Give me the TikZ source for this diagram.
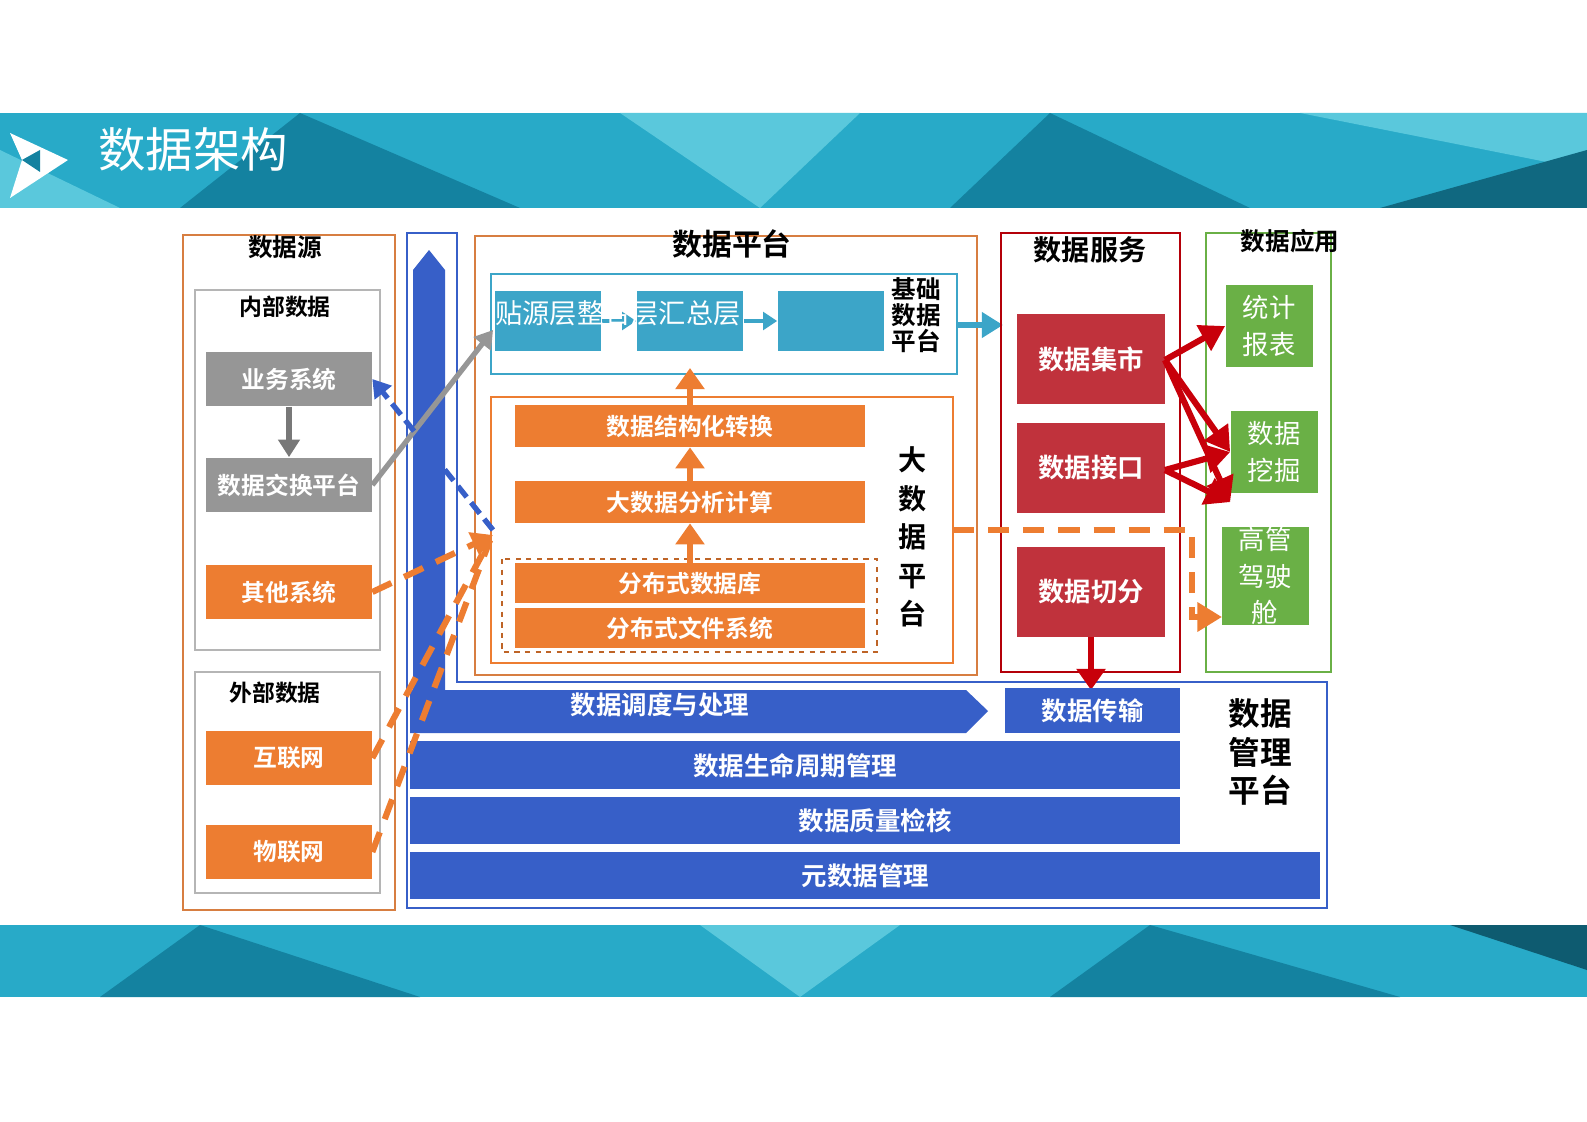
\documentclass[tikz,border=0pt]{standalone}
\usepackage{fontspec}
\setmainfont{Noto Sans CJK SC}
\newfontfamily\cjkb{Noto Sans CJK SC Bold}
\usetikzlibrary{arrows.meta,shapes.arrows}
\definecolor{teal1}{RGB}{40,170,200}
\definecolor{teal2}{RGB}{20,130,160}
\definecolor{teal3}{RGB}{90,200,220}
\definecolor{bgray}{RGB}{150,150,150}
\definecolor{borng}{RGB}{237,125,49}
\definecolor{bred}{RGB}{192,50,60}
\definecolor{bgreen}{RGB}{106,176,70}
\definecolor{bblue}{RGB}{55,95,200}
\definecolor{bteal}{RGB}{60,165,200}
\definecolor{arred}{RGB}{200,0,10}
\tikzset{
 box/.style={draw=none,fill=#1,text=white,font=\cjkb\fontsize{13.5}{16}\selectfont,align=center,inner sep=0pt},
 frame/.style={draw=#1,line width=1.5pt},
 ttl/.style={font=\cjkb\fontsize{14}{17}\selectfont,align=center,inner sep=0pt},
 obox/.style={box=borng,minimum width=7.02cm,minimum height=0.84cm},
 rbox/.style={box=bred,minimum width=2.96cm,minimum height=1.8cm,font=\cjkb\fontsize{15}{18}\selectfont},
 gbox/.style={box=bgreen,minimum width=1.74cm,minimum height=1.64cm,font=\fontsize{15}{21}\selectfont},
 sbox/.style={box=#1,minimum width=3.32cm,minimum height=1.1cm},
 mbar/.style={box=bblue,font=\cjkb\fontsize{14.5}{17}\selectfont,anchor=north west},
}
\begin{document}
\begin{tikzpicture}[x=0.02cm,y=-0.02cm]
\useasboundingbox (0,0) rectangle (1587,1122);
\fill[white] (0,0) rectangle (1587,1122);
% banners
\fill[teal1] (0,113) rectangle (1587,208);
\fill[teal2] (300,113)--(520,208)--(180,208)--cycle;
\fill[teal3] (620,113)--(860,113)--(760,208)--cycle;
\fill[teal2] (1050,113)--(1250,208)--(950,208)--cycle;
\fill[teal3] (1300,113)--(1587,113)--(1587,170)--cycle;
\fill[teal2!80!black] (1380,208)--(1587,150)--(1587,208)--cycle;
\fill[teal3] (0,150)--(120,208)--(0,208)--cycle;
\fill[white] (10,133)--(68,160)--(10,198)--(22,160)--cycle;
\fill[teal2] (22,160)--(40,150)--(40,172)--cycle;
\node[anchor=west,text=white,font=\fontsize{27}{32}\selectfont] (title) at (92,150) {数据架构};
\fill[teal1] (0,925) rectangle (1587,997);
\fill[teal2] (200,925)--(420,997)--(100,997)--cycle;
\fill[teal3] (700,925)--(900,925)--(800,997)--cycle;
\fill[teal2] (1150,925)--(1400,997)--(1050,997)--cycle;
\fill[teal2!70!black] (1450,925)--(1587,925)--(1587,970)--cycle;
% data source
\draw[frame=borng!80!gray] (183,235) rectangle (395,910);
\node[ttl] (tsrc) at (285,247) {数据源};
\draw[frame=bgray!70,line width=1pt] (195,290) rectangle (380,650);
\node[ttl,font=\cjkb\fontsize{13}{16}\selectfont] (tin) at (285,307) {内部数据};
\node[sbox=bgray] (yw) at (289,379) {业务系统};
\node[sbox=bgray] (jh) at (289,485) {数据交换平台};
\node[sbox=borng] (qt) at (289,592) {其他系统};
\draw[frame=bgray!70,line width=1pt] (195,672) rectangle (380,893);
\node[ttl,font=\cjkb\fontsize{13}{16}\selectfont] (tex) at (275,693) {外部数据};
\node[sbox=borng] (hl) at (289,758) {互联网};
\node[sbox=borng] (wl) at (289,852) {物联网};
% management platform frame
\draw[bblue,line width=1.5pt] (407,233)--(457,233)--(457,682)--(1327,682)--(1327,908)--(407,908)--cycle;
\fill[bblue] (413,730)--(413,270)--(429,250)--(445,270)--(445,730)--cycle;
% data platform
\draw[frame=borng!80!gray] (475,236) rectangle (977,675);
\node[ttl,font=\cjkb\fontsize{17}{20}\selectfont] (tdp) at (732,244) {数据平台};
\draw[frame=bteal] (491,274) rectangle (957,374);
\node[box=bteal,minimum width=2.14cm,minimum height=1.2cm] (b1) at (548,321) {};
\node[box=bteal,minimum width=2.14cm,minimum height=1.2cm] (b2) at (690,321) {};
\node[box=bteal,minimum width=2.14cm,minimum height=1.2cm] (b3) at (831,321) {};
\draw[-{Triangle[length=8pt,width=10pt]},bteal,line width=2pt] (b1.east) -- (b2.west);
\draw[-{Triangle[length=8pt,width=10pt]},bteal,line width=2pt] (b2.east) -- (b3.west);
\node[text=white,font=\fontsize{15.5}{18}\selectfont,inner sep=0pt] (btxt) at (618,313) {贴源层整合层汇总层};
\node[ttl,font=\cjkb\fontsize{14}{16}\selectfont] (tbase) at (916,315) {基础\\[-1pt]数据\\[-1pt]平台};
\coordinate (bout) at (1003,325);
\draw[-{Triangle[length=12pt,width=14pt]},bteal,line width=3pt] (957,325) -- (bout);
\draw[frame=borng] (491,397) rectangle (953,663);
\node[obox] (s1) at (690,426) {数据结构化转换};
\node[obox] (s2) at (690,502) {大数据分析计算};
\draw[borng!80!black,line width=1.5pt,dashed] (502,559) rectangle (877,652);
\node[obox,minimum height=0.8cm] (s3) at (690,583) {分布式数据库};
\node[obox,minimum height=0.8cm] (s4) at (690,628) {分布式文件系统};
\node[ttl,font=\cjkb\fontsize{16}{22}\selectfont] (tbig) at (913,537) {大\\数\\据\\平\\台};
\coordinate (btop) at (690,368);
\draw[-{Triangle[length=12pt,width=16pt]},borng,line width=3pt] (s1.north) -- (btop);
\draw[-{Triangle[length=12pt,width=16pt]},borng,line width=3pt] (s2.north) -- (s1.south);
\draw[-{Triangle[length=12pt,width=16pt]},borng,line width=3pt] (s3.north) -- (s2.south);
% data service
\draw[frame=arred!90!black] (1001,233) rectangle (1180,672);
\node[ttl,font=\cjkb\fontsize{16}{19}\selectfont] (tsv) at (1090,250) {数据服务};
\node[rbox] (m1) at (1091,359) {数据集市};
\node[rbox] (m2) at (1091,468) {数据接口};
\node[rbox] (m3) at (1091,592) {数据切分};
% data application
\draw[frame=bgreen] (1206,233) rectangle (1331,672);
\node[ttl,font=\cjkb\fontsize{14}{17}\selectfont] (tap) at (1290,241) {数据应用};
\node[gbox] (g1) at (1269,326) {统计\\报表};
\node[gbox] (g2) at (1274,452) {数据\\挖掘};
\node[gbox] (g3) at (1265,576) {高管\\驾驶\\舱};
\tikzset{rarr/.style={-{Triangle[length=14pt,width=16pt]},arred,line width=3.5pt}}
\coordinate (r1) at (1165,360);
\coordinate (r2) at (1165,470);
\draw[rarr] (r1) -- (g1.west);
\draw[rarr] (r1) -- (g2.west);
\draw[rarr] (r1) -- ([yshift=-5pt]g2.south west);
\draw[rarr] (r2) -- (g2.west);
\draw[rarr] (r2) -- ([yshift=-5pt]g2.south west);
% management bars
\draw[-{Triangle[length=12pt,width=16pt]},arred,line width=3.5pt] (m3.south) -- (1091,690);
\fill[bblue] (410,690)--(966,690)--(988,711)--(966,733)--(410,733)--cycle;
\node[text=white,font=\cjkb\fontsize{14.5}{17}\selectfont] (md1) at (660,705) {数据调度与处理};
\node[mbar,minimum width=3.5cm,minimum height=0.9cm] (md2) at (1005,688) {数据传输};
\node[mbar,minimum width=15.4cm,minimum height=0.96cm] (md3) at (410,741) {数据生命周期管理};
\node[mbar,minimum width=15.4cm,minimum height=0.94cm] (md4) at (410,797) {\hspace*{3.2cm}数据质量检核};
\node[mbar,minimum width=18.2cm,minimum height=0.94cm] (md5) at (410,852) {元数据管理};
\node[ttl,font=\cjkb\fontsize{18}{22}\selectfont] (tmg) at (1260,752) {数据\\管理\\平台};
% connectors
\draw[-{Triangle[length=10pt,width=12pt]},bgray!80!black,line width=3pt] (yw.south) -- (jh.north);
\coordinate (gend) at (493,330);
\draw[-{Triangle[length=10pt,width=12pt]},bgray,line width=3pt] (jh.east) -- (gend);
\coordinate (bls) at (493,530);
\draw[-{Triangle[length=10pt,width=12pt]},bblue,line width=3pt,dash pattern=on 8pt off 4pt] (bls) -- (yw.east);
\coordinate (oin) at (493,535);
\tikzset{odash/.style={borng,line width=3.5pt,dash pattern=on 12pt off 8pt}}
\draw[odash,-{Triangle[length=12pt,width=14pt]}] (qt.east) -- (oin);
\draw[odash] (hl.east) -- (490,540);
\draw[odash] (wl.east) -- (490,540);
\coordinate (oapp) at (1222,617);
\draw[odash,-{Triangle[length=14pt,width=16pt]}] (953,530) -- (1192,530) -- (1192,617) -- (oapp);
\end{tikzpicture}
\end{document}
